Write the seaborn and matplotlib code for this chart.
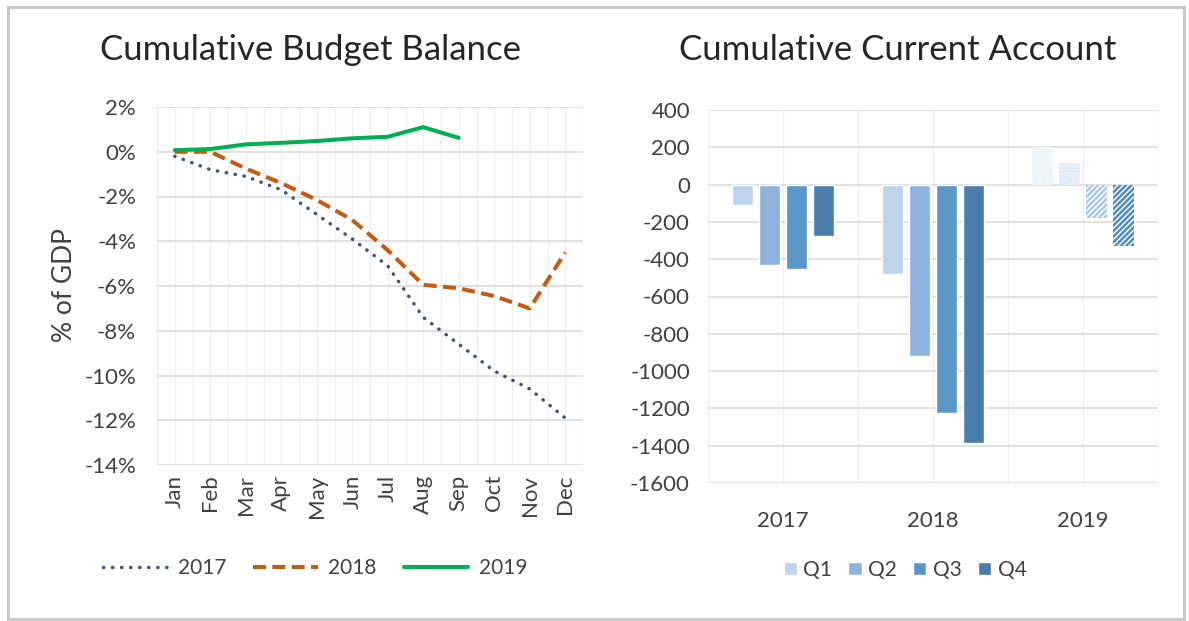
import numpy as np
import pandas as pd
import matplotlib.pyplot as plt
import seaborn as sns
from matplotlib.patches import Rectangle
from matplotlib.lines import Line2D
from matplotlib.ticker import FuncFormatter

# data
months = ['Jan', 'Feb', 'Mar', 'Apr', 'May', 'Jun', 'Jul', 'Aug', 'Sep', 'Oct', 'Nov', 'Dec']
bb_2017 = [-0.2, -0.8, -1.1, -1.7, -2.8, -3.9, -5.1, -7.4, -8.6, -9.8, -10.6, -11.9]
bb_2018 = [0.0, 0.0, -0.75, -1.4, -2.15, -3.05, -4.4, -5.95, -6.1, -6.45, -7.0, -4.5]
bb_2019 = [0.07, 0.12, 0.33, 0.4, 0.48, 0.6, 0.67, 1.1, 0.62]

years = ['2017', '2018', '2019']
quarters = ['Q1', 'Q2', 'Q3', 'Q4']
ca_q1 = [-112, -482, 200]
ca_q2 = [-432, -921, 115]
ca_q3 = [-450, -1222, -178]
ca_q4 = [-274, -1383, -330]

sns.set_theme(style='white')
plt.rcParams['font.family'] = ['Lato', 'DejaVu Sans']
plt.rcParams['axes.unicode_minus'] = False
plt.rcParams['hatch.linewidth'] = 1.8

txt = '#404040'
grid_c = '#d9d9d9'
vgrid_c = '#efefef'

fig = plt.figure(figsize=(11.89, 6.21), dpi=100)
fig.patch.set_facecolor('white')

# outer frame like the excel screenshot
fig.patches.append(Rectangle((8 / 1189, 2 / 621), 1176 / 1189, 612 / 621, transform=fig.transFigure,
                             fill=False, edgecolor='#c8c8c8', linewidth=2.2))

# ---- left: cumulative budget balance ----
ax1 = fig.add_axes([157 / 1189, 1 - 465 / 621, 426 / 1189, 358 / 621])
x = np.arange(len(months))
dot = (0, (0.1, 2.5))
dash = (0, (3.2, 1.6))
sns.lineplot(x=x, y=bb_2017, ax=ax1, color='#44546a', linewidth=2.5,
             linestyle=dot, dash_capstyle='round')
sns.lineplot(x=x, y=bb_2018, ax=ax1, color='#c55a11', linewidth=2.9, linestyle=dash)
sns.lineplot(x=x[:len(bb_2019)], y=bb_2019, ax=ax1, color='#00b050', linewidth=2.9)

ax1.set_ylim(-14, 2)
ax1.set_yticks(np.arange(-14, 3, 2))
ax1.yaxis.set_major_formatter(FuncFormatter(lambda v, p: f'{v:.0f}%'))
ax1.set_xlim(-0.5, 11.5)
ax1.set_xticks(x)
ax1.set_xticklabels(months, rotation=90)
ax1.set_xticks(np.arange(-0.5, 12, 0.5), minor=True)
ax1.grid(axis='y', color=grid_c, linewidth=1.1)
ax1.grid(axis='x', which='both', color=vgrid_c, linewidth=1)
ax1.tick_params(axis='y', length=0, pad=15, labelsize=16, labelcolor=txt)
ax1.tick_params(axis='x', which='both', length=0, pad=7, labelsize=16, labelcolor=txt)
for s in ax1.spines.values():
    s.set_visible(False)
ax1.set_xlabel('')
ax1.set_ylabel('')

fig.text(310 / 1189, 1 - 50 / 621, 'Cumulative Budget Balance', ha='center', va='center',
         fontsize=25, color='#262626')
fig.text(65 / 1189, 1 - 285 / 621, '% of GDP', ha='center', va='center', rotation=90,
         fontsize=19, color=txt)

h1 = [Line2D([], [], color='#44546a', linewidth=2.5, linestyle=dot, dash_capstyle='round'),
      Line2D([], [], color='#c55a11', linewidth=2.9, linestyle=dash),
      Line2D([], [], color='#00b050', linewidth=2.9)]
fig.legend(h1, ['2017', '2018', '2019'], loc='center', bbox_to_anchor=(315 / 1189, 1 - 568 / 621),
           ncol=3, frameon=False, fontsize=15, handlelength=3.1, columnspacing=1.3,
           handletextpad=0.5, labelcolor=txt)

# ---- right: cumulative current account ----
ax2 = fig.add_axes([708 / 1189, 1 - 483 / 621, 450 / 1189, 373 / 621])
ca = pd.DataFrame({'year': years * 4,
                   'quarter': [q for q in quarters for _ in years],
                   'value': ca_q1 + ca_q2 + ca_q3 + ca_q4})
q_colors = ['#bdd3ee', '#8cb2de', '#5b96c9', '#4a7dab']
sns.barplot(data=ca, x='year', y='value', hue='quarter', palette=q_colors, ax=ax2,
            width=0.72, gap=0.2, saturation=1, legend=False, zorder=3)

# 2019 figures are estimates: lighter / hatched bars
light_2019 = ['#dde9f6', '#c6dbf1']
for i, cont in enumerate(ax2.containers):
    bar = cont.patches[2]
    if i < 2:
        bar.set_facecolor(light_2019[i])
        bar.set_edgecolor('white')
        bar.set_hatch('.....')
        bar.set_linewidth(0)
    else:
        bar.set_facecolor('white')
        bar.set_edgecolor(['#a9c8e8', '#4f8cc4'][i - 2])
        bar.set_hatch('//////')
        bar.set_linewidth(0)

ax2.set_ylim(-1600, 400)
ax2.set_yticks(np.arange(-1600, 401, 200))
ax2.yaxis.set_major_formatter(FuncFormatter(lambda v, p: f'{v:.0f}'))
ax2.set_xlim(-0.5, 2.5)
ax2.set_xticks([-0.5, 0.5, 1.5, 2.5], minor=True)
ax2.grid(axis='y', color=grid_c, linewidth=1.1, zorder=0)
ax2.grid(axis='x', which='both', color=vgrid_c, linewidth=1, zorder=0)
ax2.set_axisbelow(True)
ax2.tick_params(axis='y', length=0, pad=13, labelsize=16, labelcolor=txt)
ax2.tick_params(axis='x', which='both', length=0, pad=20, labelsize=16, labelcolor=txt)
for s in ax2.spines.values():
    s.set_visible(False)
ax2.set_xlabel('')
ax2.set_ylabel('')

fig.text(898 / 1189, 1 - 50 / 621, 'Cumulative Current Account', ha='center', va='center',
         fontsize=25, color='#262626')

h2 = [Rectangle((0, 0), 1, 1, facecolor=c) for c in q_colors]
fig.legend(h2, quarters, loc='center', bbox_to_anchor=(905 / 1189, 1 - 570 / 621),
           ncol=4, frameon=False, fontsize=15, handlelength=0.63, handleheight=0.63,
           columnspacing=0.8, handletextpad=0.3, labelcolor=txt)

fig.savefig('out.png', dpi=100, facecolor='white')
